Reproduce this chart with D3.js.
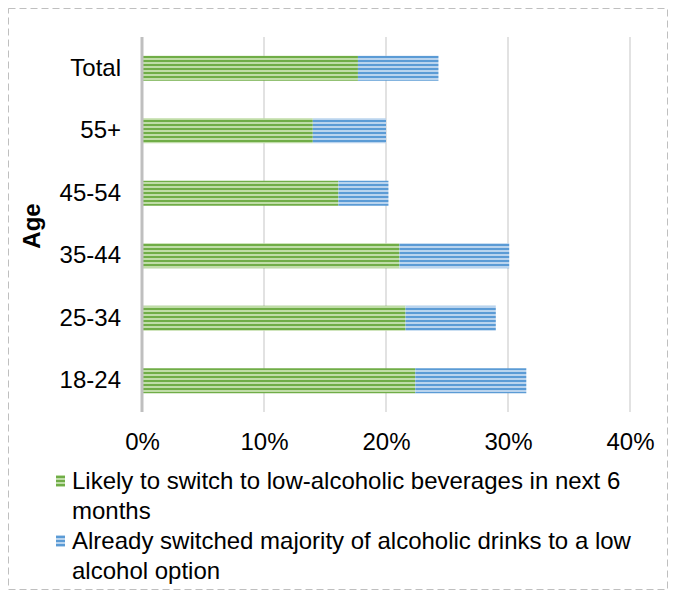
<!DOCTYPE html>
<html><head><meta charset="utf-8">
<script src="https://cdn.jsdelivr.net/npm/d3@7"></script>
<style>body{margin:0;background:#fff;}svg{display:block;font-family:Arial,"Liberation Sans",sans-serif;}</style>
</head><body>
<svg id="chart" width="675" height="599"></svg>
<script>
const categories = ["Total", "55+", "45-54", "35-44", "25-34", "18-24"];
const likelyValues = [17.7, 14.0, 16.1, 21.1, 21.6, 22.4];
const alreadyValues = [6.6, 6.0, 4.1, 9.0, 7.4, 9.1];
const seriesNames = ["Likely to switch to low-alcoholic beverages in next 6 months", "Already switched majority of alcoholic drinks to a low alcohol option"];
const legendLines = [["Likely to switch to low-alcoholic beverages in next 6", "months"], ["Already switched majority of alcoholic drinks to a low", "alcohol option"]];
const xTicks = [0, 10, 20, 30, 40];

const FS = 24;
const svg = d3.select("#chart");
const defs = svg.append("defs");
function stripe(id, dark, light) {
  const p = defs.append("pattern").attr("id", id).attr("patternUnits", "userSpaceOnUse")
    .attr("width", 8).attr("height", 4);
  p.append("rect").attr("width", 8).attr("height", 4).attr("fill", light);
  p.append("rect").attr("width", 8).attr("height", 2).attr("fill", dark);
}
stripe("pg", "#70AD47", "#C0DDA8");
stripe("pb", "#5B9BD5", "#BAD4EE");

svg.append("rect").attr("x", 8.5).attr("y", 8.5).attr("width", 659).attr("height", 581)
  .attr("fill", "none").attr("stroke", "#BFBFBF").attr("stroke-dasharray", "7,4");

const x = d3.scaleLinear().domain([0, 40]).range([142, 630]);
const y = d3.scaleBand().domain(categories).range([37, 412]).paddingInner(0.6).paddingOuter(0.3);

const g = svg.append("g");
g.selectAll(".grid").data(xTicks.slice(1)).enter().append("line")
  .attr("x1", d => x(d)).attr("x2", d => x(d)).attr("y1", 37).attr("y2", 412)
  .attr("stroke", "#D9D9D9").attr("stroke-width", 1.5);

const data = categories.map((c, i) => ({c, a: likelyValues[i], b: alreadyValues[i]}));
g.selectAll(".bg").data(data).enter().append("rect")
  .attr("x", x(0)).attr("y", d => y(d.c)).attr("width", d => x(d.a) - x(0)).attr("height", y.bandwidth())
  .attr("fill", "url(#pg)");
g.selectAll(".bb").data(data).enter().append("rect")
  .attr("x", d => x(d.a)).attr("y", d => y(d.c)).attr("width", d => x(d.a + d.b) - x(d.a)).attr("height", y.bandwidth())
  .attr("fill", "url(#pb)");

g.append("line").attr("x1", x(0)).attr("x2", x(0)).attr("y1", 37).attr("y2", 412)
  .attr("stroke", "#BFBFBF").attr("stroke-width", 3);

const xAxis = d3.axisBottom(x).tickValues(xTicks).tickFormat(d => d + "%").tickSize(0).tickPadding(0);
const xa = svg.append("g").attr("transform", "translate(0,433)").call(xAxis);
xa.select(".domain").remove();
xa.selectAll("text").attr("font-size", FS).attr("fill", "#000").attr("font-family", "Arial, 'Liberation Sans', sans-serif");

const yAxis = d3.axisLeft(y).tickSize(0).tickPadding(0);
const ya = svg.append("g").attr("transform", "translate(121,0)").call(yAxis);
ya.select(".domain").remove();
ya.selectAll("text").attr("font-size", FS).attr("fill", "#000").attr("font-family", "Arial, 'Liberation Sans', sans-serif");

svg.append("text").attr("transform", "translate(40,226) rotate(-90)").attr("text-anchor", "middle")
  .attr("font-size", FS).attr("font-weight", "bold").text("Age");

const leg = svg.append("g");
const fills = ["url(#pg)", "url(#pb)"];
legendLines.forEach((lines, i) => {
  const y0 = 481 + i * 60;
  leg.append("rect").attr("x", 56).attr("y", y0 - 6).attr("width", 9).attr("height", 12).attr("fill", fills[i]);
  lines.forEach((t, j) => {
    leg.append("text").attr("x", 72).attr("y", y0 + j * 30).attr("dy", "0.35em")
      .attr("font-size", FS).attr("fill", "#000").text(t);
  });
});
</script>
</body></html>
